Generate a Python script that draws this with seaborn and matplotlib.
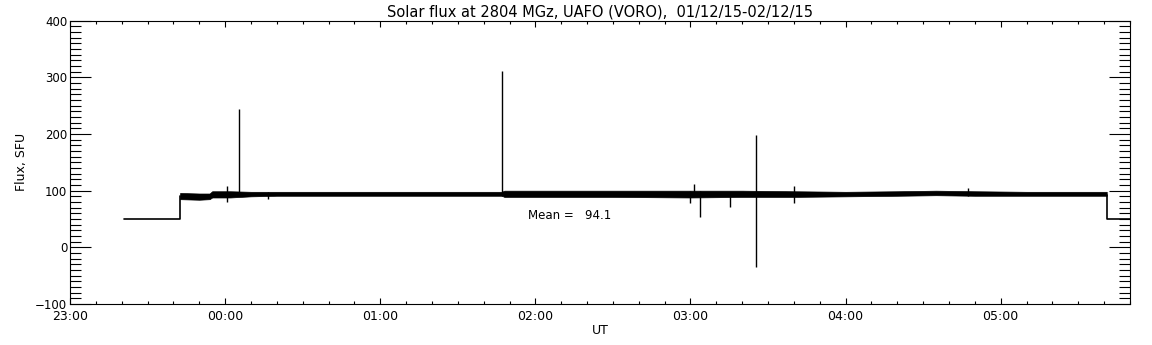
import numpy as np
import pandas as pd
import matplotlib
matplotlib.use("Agg")
import matplotlib.pyplot as plt
import seaborn as sns
from matplotlib.ticker import FixedLocator, MultipleLocator, FixedFormatter

# ---- data (minutes since 23:00 UT) ----
title = "Solar flux at 2804 MGz, UAFO (VORO),  01/12/15-02/12/15"
tick_minutes = [0, 60, 120, 180, 240, 300, 360]
tick_labels = ["23:00", "00:00", "01:00", "02:00", "03:00", "04:00", "05:00"]

# calibration level before / after the observation
pre_t = [20.9, 42.6, 42.6]
pre_v = [50, 50, 90]
post_t = [401, 401, 415]
post_v = [92, 50, 50]

# noise band envelope of the flux record
band_t = [42.6, 50, 54, 55, 62, 70, 80, 100, 120, 140, 160, 167, 168, 190, 210, 240,
          260, 280, 300, 320, 335, 350, 370, 390, 401]
band_lo = [85, 84, 85, 88, 88, 90, 91, 91, 91, 91, 91, 91, 89, 89, 89, 88,
           89, 89, 90, 91, 92, 91, 91, 91, 91]
band_hi = [96, 95, 95, 99, 99, 98, 98, 98, 98, 98, 98, 98, 100, 100, 100, 100,
           100, 99, 98, 99, 100, 99, 98, 98, 98]

# individual spikes: time, low, high
spike_t = [60.8, 65.4, 76.7, 167.2, 240.0, 241.2, 243.5, 255.1, 265.2, 279.9, 347.3]
spike_lo = [80, 95, 85, 90, 78, 95, 53, 72, -35, 78, 90]
spike_hi = [109, 245, 97, 312, 100, 111, 100, 97, 199, 109, 104]

mean_value = 94.1

# ---- figure ----
sns.set_style("ticks")
plt.rcParams["font.family"] = ["DejaVu Sans"]
plt.rcParams["text.color"] = "black"
plt.rcParams["axes.labelcolor"] = "black"
fig = plt.figure(figsize=(11.52, 3.45), dpi=100)
ax = fig.add_axes([70 / 1152, (345 - 304) / 345, (1130 - 70) / 1152, (304 - 20.7) / 345])

df_band = pd.DataFrame({"t": band_t, "lo": band_lo, "hi": band_hi})
ax.fill_between(df_band["t"], df_band["lo"], df_band["hi"], color="black", lw=0.5)
sns.lineplot(x=pre_t, y=pre_v, color="black", lw=1.2, ax=ax, sort=False, estimator=None)
sns.lineplot(x=post_t, y=post_v, color="black", lw=1.2, ax=ax, sort=False, estimator=None)
ax.vlines(spike_t, spike_lo, spike_hi, color="black", lw=1.0)

ax.text(177, 56, "Mean =   %.1f" % mean_value, fontsize=8.5, va="center", ha="left",
        color="black")

ax.set_xlim(0, 410)
ax.set_ylim(-100, 400)
ax.xaxis.set_major_locator(FixedLocator(tick_minutes))
ax.xaxis.set_major_formatter(FixedFormatter(tick_labels))
ax.xaxis.set_minor_locator(MultipleLocator(10))
ax.yaxis.set_major_locator(MultipleLocator(100))
ax.yaxis.set_minor_locator(MultipleLocator(10))

ax.tick_params(axis="both", which="both", direction="in", top=True, right=True,
               width=0.8, colors="black")
ax.tick_params(axis="x", labelsize=9)
ax.tick_params(axis="y", labelsize=8.5)
ax.tick_params(axis="y", which="major", length=15)
ax.tick_params(axis="y", which="minor", length=7.6)
ax.tick_params(axis="x", which="major", length=4.2, pad=4)
ax.tick_params(axis="x", which="minor", length=2.1)
ax.tick_params(axis="y", which="major", pad=2)
for s in ax.spines.values():
    s.set_linewidth(0.8)
    s.set_color("black")

ax.set_xlabel("UT", fontsize=9, labelpad=1, color="black")
ax.set_ylabel("Flux, SFU", fontsize=9, labelpad=5, color="black")
ax.set_title(title, fontsize=10.5, pad=3, color="black")

fig.savefig("out.png", dpi=100)
